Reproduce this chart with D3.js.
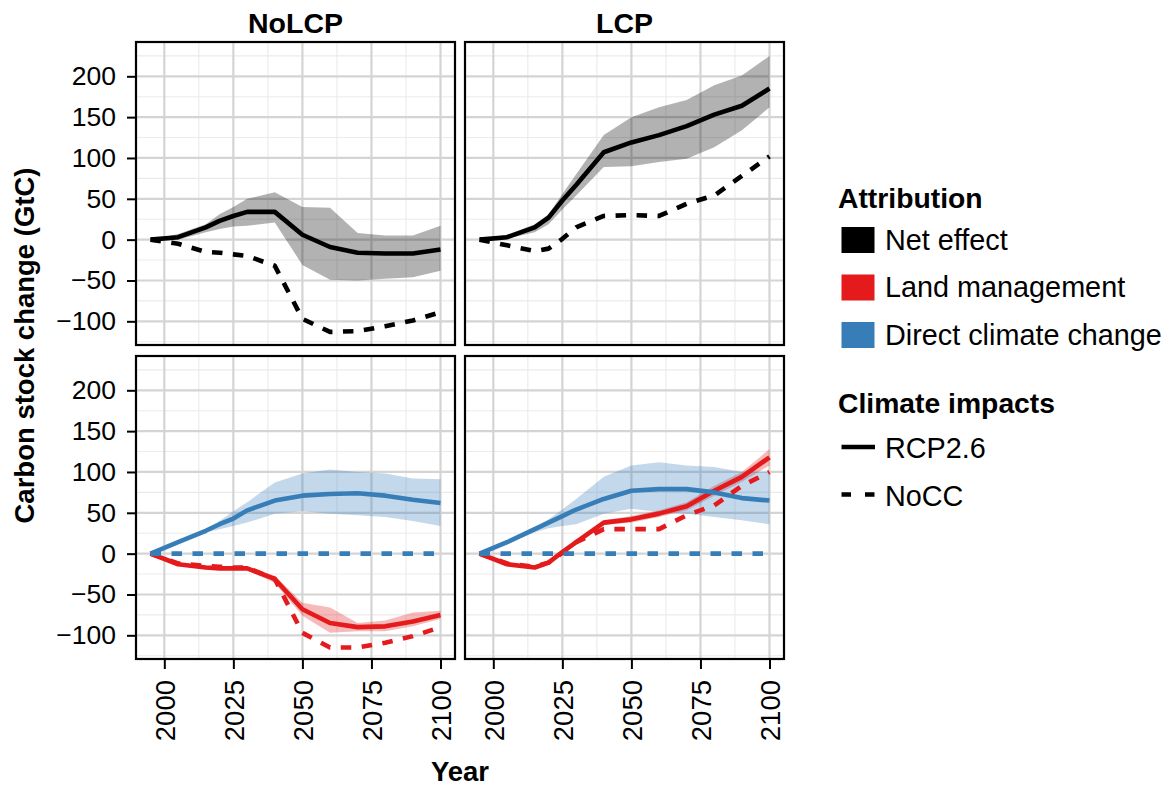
<!DOCTYPE html>
<html>
<head>
<meta charset="utf-8">
<script src="https://cdn.jsdelivr.net/npm/d3@7"></script>
<style>
  html, body { margin: 0; padding: 0; background: #fff; }
  svg text { font-family: "Liberation Sans", Arial, Helvetica, sans-serif; fill: #000; }
</style>
</head>
<body>
<svg id="chart" width="1168" height="790"></svg>
<script>
// Sample years shared by every series
const years = [1995, 2005, 2015, 2020, 2025, 2030, 2040, 2050, 2060, 2070, 2080, 2090, 2100];

// Facet labels and axis ticks
const columns = ["NoLCP", "LCP"];
const yTicks = [-100, -50, 0, 50, 100, 150, 200];
const yMinor = [-125, -75, -25, 25, 75, 125, 175, 225];
const xTicks = [2000, 2025, 2050, 2075, 2100];
const xMinor = [2012.5, 2037.5, 2062.5, 2087.5];

// Legend entries
const attributions = ["Net effect", "Land management", "Direct climate change"];
const attributionColors = ["#000000", "#E41A1C", "#377EB8"];
const scenarios = ["RCP2.6", "NoCC"];

// Net effect, NoLCP (GtC)
const netNoLCP = [0, 3, 15, 23, 29, 34, 34, 6, -9, -16, -17, -17, -12];
const netNoLCPHi = [0, 7, 19, 31, 40, 50, 58, 40, 39, 8, 5, 5, 17];
const netNoLCPLo = [0, 0, 9, 13, 16, 17, 21, -31, -49, -50, -48, -46, -38];
const netNoLCPNoCC = [0, -5, -15, -16, -18, -20, -32, -97, -113, -112, -106, -99, -89];

// Net effect, LCP (GtC)
const netLCP = [0, 3, 15, 27, 48, 67, 107, 119, 128, 139, 153, 164, 185];
const netLCPHi = [0, 6, 19, 31, 56, 80, 128, 150, 162, 171, 189, 201, 225];
const netLCPLo = [0, 1, 9, 19, 37, 54, 89, 90, 95, 99, 113, 134, 162];
const netLCPNoCC = [0, -7, -14, -11, 1, 15, 29, 30, 29, 44, 54, 78, 102];

// Land management, NoLCP (GtC)
const landNoLCP = [0, -13, -17, -18, -18, -18, -31, -68, -85, -90, -89, -83, -75];
const landNoLCPHi = [0, -12, -15, -16, -16, -16, -27, -60, -66, -85, -82, -72, -70];
const landNoLCPLo = [0, -14, -19, -20, -20, -20, -36, -76, -97, -95, -95, -89, -80];
const landNoLCPNoCC = [0, -12, -15, -16, -17, -17, -31, -97, -115, -115, -109, -101, -90];

// Direct climate change, NoLCP (GtC)
const climNoLCP = [0, 14, 28, 36, 43, 53, 65, 71, 73, 74, 71, 66, 62];
const climNoLCPHi = [0, 14, 30, 40, 52, 63, 87, 98, 103, 100, 98, 92, 91];
const climNoLCPLo = [0, 13, 26, 30, 34, 38, 49, 52, 49, 47, 45, 40, 34];
const climNoLCPNoCC = [0, 0, 0, 0, 0, 0, 0, 0, 0, 0, 0, 0, 0];

// Land management, LCP (GtC)
const landLCP = [0, -13, -17, -11, 2, 14, 38, 42, 49, 58, 77, 94, 118];
const landLCPHi = [0, -12, -15, -9, 4, 17, 41, 46, 53, 63, 83, 100, 128];
const landLCPLo = [0, -14, -19, -13, 0, 11, 35, 38, 45, 53, 71, 88, 108];
const landLCPNoCC = [0, -12, -16, -11, 1, 14, 30, 30, 30, 47, 59, 83, 100];

// Direct climate change, LCP (GtC)
const climLCP = [0, 14, 30, 38, 46, 54, 67, 77, 79, 79, 75, 68, 65];
const climLCPHi = [0, 14, 32, 42, 54, 67, 94, 108, 112, 108, 106, 100, 100];
const climLCPLo = [0, 13, 26, 31, 34, 36, 49, 55, 51, 49, 45, 41, 36];
const climLCPNoCC = [0, 0, 0, 0, 0, 0, 0, 0, 0, 0, 0, 0, 0];

// Series grouped per facet (row, column)
const series = [
  { row: 0, col: 0, attr: 0, mid: netNoLCP, lo: netNoLCPLo, hi: netNoLCPHi, nocc: netNoLCPNoCC },
  { row: 0, col: 1, attr: 0, mid: netLCP, lo: netLCPLo, hi: netLCPHi, nocc: netLCPNoCC },
  { row: 1, col: 0, attr: 1, mid: landNoLCP, lo: landNoLCPLo, hi: landNoLCPHi, nocc: landNoLCPNoCC },
  { row: 1, col: 0, attr: 2, mid: climNoLCP, lo: climNoLCPLo, hi: climNoLCPHi, nocc: climNoLCPNoCC },
  { row: 1, col: 1, attr: 1, mid: landLCP, lo: landLCPLo, hi: landLCPHi, nocc: landLCPNoCC },
  { row: 1, col: 1, attr: 2, mid: climLCP, lo: climLCPLo, hi: climLCPHi, nocc: climLCPNoCC }
];

const svg = d3.select("#chart");

const panelW = 319, panelH = 303;
const panelX = [136, 465];
const panelY = [42, 356];

const x = d3.scaleLinear().domain([1989.75, 2105.25]).range([0, panelW]);
const y = d3.scaleLinear().domain([-129, 242]).range([panelH, 0]);

const area = d3.area()
  .x(d => x(d.year)).y0(d => y(d.lo)).y1(d => y(d.hi));
const line = d3.line()
  .x(d => x(d.year)).y(d => y(d.v));

const LW = 4.6;
const DASH = "10.5,10.5";

for (let r = 0; r < 2; r++) {
  for (let c = 0; c < 2; c++) {
    const g = svg.append("g").attr("transform", `translate(${panelX[c]},${panelY[r]})`);
    g.append("rect").attr("width", panelW).attr("height", panelH).attr("fill", "#fff");

    // minor grid
    g.selectAll(".ymin").data(yMinor).enter().append("line")
      .attr("x1", 0).attr("x2", panelW)
      .attr("y1", d => y(d)).attr("y2", d => y(d))
      .attr("stroke", "#ebebeb").attr("stroke-width", 1.1);
    g.selectAll(".xmin").data(xMinor).enter().append("line")
      .attr("y1", 0).attr("y2", panelH)
      .attr("x1", d => x(d)).attr("x2", d => x(d))
      .attr("stroke", "#ebebeb").attr("stroke-width", 1.1);
    // major grid
    g.selectAll(".ymaj").data(yTicks).enter().append("line")
      .attr("x1", 0).attr("x2", panelW)
      .attr("y1", d => y(d)).attr("y2", d => y(d))
      .attr("stroke", "#d4d4d4").attr("stroke-width", 2.2);
    g.selectAll(".xmaj").data(xTicks).enter().append("line")
      .attr("y1", 0).attr("y2", panelH)
      .attr("x1", d => x(d)).attr("x2", d => x(d))
      .attr("stroke", "#d4d4d4").attr("stroke-width", 2.2);

    const here = series.filter(s => s.row === r && s.col === c);

    // uncertainty ribbons
    here.forEach(s => {
      const pts = years.map((yr, i) => ({ year: yr, lo: s.lo[i], hi: s.hi[i] }));
      g.append("path").datum(pts).attr("d", area)
        .attr("fill", attributionColors[s.attr]).attr("fill-opacity", 0.3);
    });
    // RCP2.6 lines
    here.forEach(s => {
      const pts = years.map((yr, i) => ({ year: yr, v: s.mid[i] }));
      g.append("path").datum(pts).attr("d", line)
        .attr("fill", "none").attr("stroke", attributionColors[s.attr])
        .attr("stroke-width", LW).attr("stroke-linejoin", "round");
    });
    // NoCC lines
    here.forEach(s => {
      const pts = years.map((yr, i) => ({ year: yr, v: s.nocc[i] }));
      g.append("path").datum(pts).attr("d", line)
        .attr("fill", "none").attr("stroke", attributionColors[s.attr])
        .attr("stroke-width", LW).attr("stroke-linejoin", "round")
        .attr("stroke-dasharray", DASH);
    });

    // panel border
    g.append("rect").attr("width", panelW).attr("height", panelH)
      .attr("fill", "none").attr("stroke", "#000").attr("stroke-width", 2.2);

    // y axis on left column
    if (c === 0) {
      const ax = g.append("g").call(
        d3.axisLeft(y).tickValues(yTicks).tickSize(9).tickPadding(11)
      );
      ax.select(".domain").remove();
      ax.selectAll(".tick line").attr("stroke", "#000").attr("stroke-width", 2);
      ax.selectAll(".tick text").attr("font-size", 26.5).attr("fill", "#000");
    }
    // x axis on bottom row
    if (r === 1) {
      const ax = g.append("g").attr("transform", `translate(0,${panelH})`).call(
        d3.axisBottom(x).tickValues(xTicks).tickSize(10).tickFormat(d3.format("d"))
      );
      ax.select(".domain").remove();
      ax.selectAll(".tick line").attr("stroke", "#000").attr("stroke-width", 2);
      ax.selectAll(".tick text")
        .attr("font-size", 27.5).attr("fill", "#000")
        .attr("text-anchor", "end")
        .attr("transform", "translate(0,21) rotate(-90)")
        .attr("x", 0).attr("y", 0).attr("dy", "0.36em");
    }
    // facet strip title
    if (r === 0) {
      svg.append("text")
        .attr("x", panelX[c] + panelW / 2).attr("y", 33)
        .attr("text-anchor", "middle")
        .attr("font-size", 28.5).attr("font-weight", "bold")
        .text(columns[c]);
    }
  }
}

// axis titles
svg.append("text")
  .attr("transform", `translate(34,${(panelY[0] + panelY[1] + panelH) / 2 - 5}) rotate(-90)`)
  .attr("text-anchor", "middle")
  .attr("font-size", 27.5).attr("font-weight", "bold")
  .text("Carbon stock change (GtC)");

svg.append("text")
  .attr("x", (panelX[0] + panelX[1] + panelW) / 2).attr("y", 781)
  .attr("text-anchor", "middle")
  .attr("font-size", 27.5).attr("font-weight", "bold")
  .text("Year");

// legend: attribution
const leg = svg.append("g").attr("transform", "translate(838,0)");
leg.append("text").attr("x", 0).attr("y", 208)
  .attr("font-size", 28.3).attr("font-weight", "bold").text("Attribution");
attributions.forEach((name, i) => {
  const top = 227 + i * 47.5;
  leg.append("rect").attr("x", 3.5).attr("y", top).attr("width", 33).attr("height", 26)
    .attr("fill", attributionColors[i]);
  leg.append("text").attr("x", 47).attr("y", top + 22.5)
    .attr("font-size", 28.8).text(name);
});

// legend: climate impacts
leg.append("text").attr("x", 0).attr("y", 413)
  .attr("font-size", 28.3).attr("font-weight", "bold").text("Climate impacts");
scenarios.forEach((name, i) => {
  const cy = 447 + i * 47.5;
  leg.append("line").attr("x1", 3.5).attr("x2", 37).attr("y1", cy).attr("y2", cy)
    .attr("stroke", "#000").attr("stroke-width", LW)
    .attr("stroke-dasharray", i === 1 ? "9.5,14" : null);
  leg.append("text").attr("x", 47).attr("y", cy + 11)
    .attr("font-size", 28.8).text(name);
});
</script>
</body>
</html>
